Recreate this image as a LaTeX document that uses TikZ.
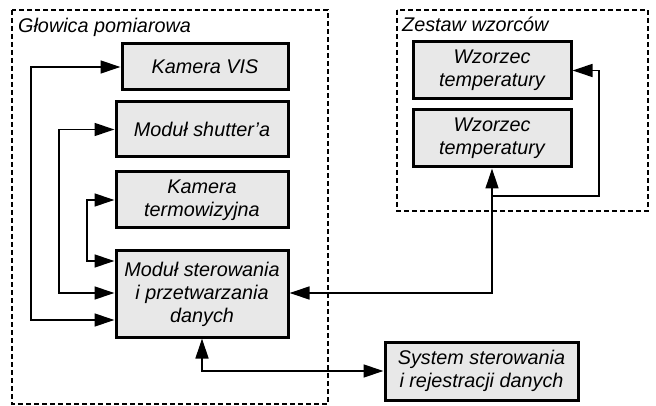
\documentclass[tikz,border=0pt]{standalone}
\usepackage{fontspec}
\setmainfont{Liberation Sans}
\usetikzlibrary{arrows.meta,calc}
\begin{document}
\begin{tikzpicture}[x=1pt,y=-1pt,
  box/.style={draw=black,line width=3pt,fill=black!9,inner sep=0pt,align=center,
    font=\fontsize{19.8}{23}\selectfont\itshape,text=black},
  grp/.style={draw=black,line width=2.8pt,dash pattern=on 5pt off 3pt},
  lbl/.style={anchor=base west,inner sep=0pt,font=\fontsize{19.8}{23}\selectfont\itshape,text=black},
  link/.style={line width=1.3pt,draw=black},
  >={Triangle[length=20pt,width=13pt]}]
\useasboundingbox (0,0) rectangle (656,406);
% groups
\draw[grp] (12,10) rectangle (328,404);
\draw[grp] (397,10) rectangle (648,211);
\node[lbl] (glab) at (18,33) {Głowica pomiarowa};
\node[lbl] (zlab) at (402,32) {Zestaw wzorców};
% boxes
\node[box,minimum width=166pt,minimum height=46pt] (vis) at (205,67) {Kamera VIS};
\node[box,minimum width=172pt,minimum height=55pt] (sh) at (202,129.5) {Moduł shutter’a};
\node[box,minimum width=172pt,minimum height=56pt] (ir) at (202,200) {Kamera\\termowizyjna};
\node[box,minimum width=172pt,minimum height=86pt] (mod) at (202,294) {Moduł sterowania\\i przetwarzania\\danych};
\node[box,minimum width=158pt,minimum height=57pt] (wz1) at (492,70.5) {Wzorzec\\temperatury};
\node[box,minimum width=158pt,minimum height=57pt] (wz2) at (492,138.5) {Wzorzec\\temperatury};
\node[box,minimum width=193pt,minimum height=58pt] (sys) at (481.5,371) {System sterowania\\i rejestracji danych};
% connector bends
\coordinate (a1) at (31,0);
\coordinate (a2) at (59,0);
\coordinate (a3) at (87,0);
\coordinate (br) at (492,196);
\coordinate (br2) at (599,196);
% connectors
\draw[link,<->] (vis.west) -- (vis.west -| a1) |- ($(mod.west)+(0,26)$);
\draw[link,<->] (sh.west) -- (sh.west -| a2) |- ($(mod.west)+(0,-1)$);
\draw[link,<->] (ir.west) -- (ir.west -| a3) |- ($(mod.west)+(0,-33)$);
\draw[link,<->] ($(mod.east)+(0,-1)$) -| (wz2.south);
\draw[link,->] (br) -- (br2) |- (wz1.east);
\draw[link,<->] (mod.south) |- (sys.west);
\end{tikzpicture}
\end{document}
